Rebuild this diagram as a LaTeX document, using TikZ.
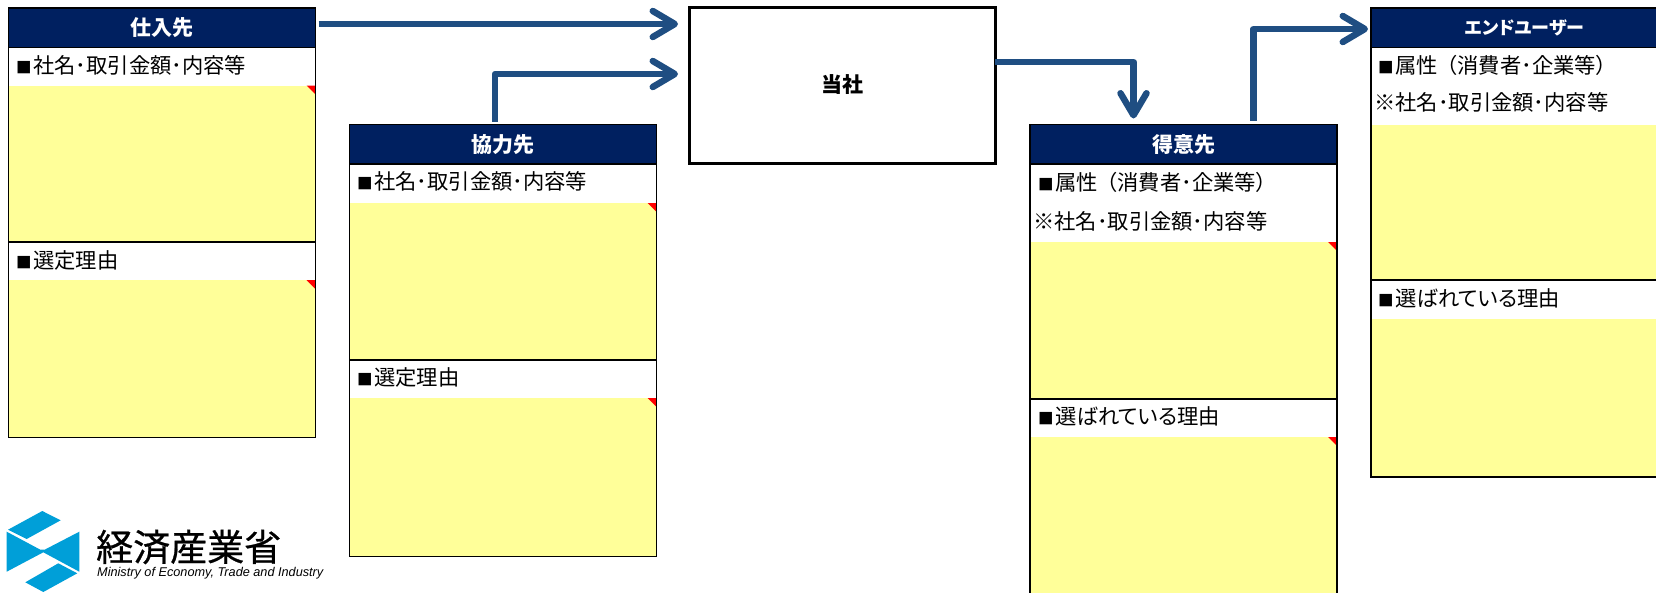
\documentclass[tikz,border=0pt]{standalone}
\usepackage{fontspec}
\setmainfont{Noto Sans CJK JP}[RawFeature=+palt]
\newfontfamily\logolat{Liberation Sans}
\newfontfamily\logocjk{Noto Sans CJK JP}[FakeBold=0.7]
\usetikzlibrary{arrows.meta,calc}
\definecolor{navy}{HTML}{002060}
\definecolor{memo}{HTML}{FFFF99}
\definecolor{flowblue}{HTML}{1F4E82}
\definecolor{logoblue}{HTML}{009FD8}
\newcommand{\sqmark}{{\fontsize{15.5}{20}\selectfont ■}\kern1.5pt}
\newcommand{\wideopen}{\kern9pt（}
\tikzset{
  headbox/.style={draw=black,line width=1.6pt,fill=navy,text=white,font=\fontsize{21}{24}\selectfont\bfseries,
    anchor=north west,inner sep=0pt,outer sep=0pt,minimum width=307pt,minimum height=39.5pt},
  memobox/.style={fill=memo,anchor=north west,inner sep=0pt,outer sep=0pt,minimum width=307pt},
  framebox/.style={draw=black,line width=1.6pt,anchor=north west,inner sep=0pt,outer sep=0pt,minimum width=307pt},
  rowlabel/.style={anchor=west,inner sep=0pt,font=\fontsize{21.3}{24}\selectfont},
  flow/.style={draw=flowblue,line width=6.5pt,line join=round,-{Straight Barb[length=22pt,width=26pt,round]}},
  corner/.style={fill=red}
}
\newcommand{\memo}[4]{% name, x, top, height
  \node[memobox,minimum height=#4pt] (#1) at (#2,#3) {};
  \fill[corner] (#1.north east) -- ++(-9,0) -- ++(9,9) -- cycle;
}
\begin{document}
\begin{tikzpicture}[x=1pt,y=-1pt]
\useasboundingbox (0,0) rectangle (1656,592);
\clip (0,0) rectangle (1656,592);

% supplier
\memo{m1a}{8.5}{85.5}{156.5}
\memo{m1b}{8.5}{280}{158}
\node[framebox,minimum height=429.5pt] (box1) at (8.5,8) {};
\draw[black,line width=1.2pt] (8.5,242) -- (315.5,242);
\node[headbox] (head1) at (8.5,8) {仕入先};
\node[rowlabel] (t1a) at (16,65) {\sqmark 社名･取引金額･内容等};
\node[rowlabel] (t1b) at (16,260) {\sqmark 選定理由};

% partner
\memo{m2a}{349.5}{203}{157}
\memo{m2b}{349.5}{398}{158.5}
\node[framebox,minimum height=432pt] (box2) at (349.5,124.5) {};
\draw[black,line width=1.2pt] (349.5,360) -- (656.5,360);
\node[headbox] (head2) at (349.5,124.5) {協力先};
\node[rowlabel] (t2a) at (357,181) {\sqmark 社名･取引金額･内容等};
\node[rowlabel] (t2b) at (357,377) {\sqmark 選定理由};

% own company
\node[framebox,line width=3pt,minimum width=306pt,minimum height=156pt,font=\fontsize{21}{24}\selectfont\bfseries] (own) at (689,7) {当社};

% customer
\memo{m3a}{1030}{242}{157}
\memo{m3b}{1030}{437}{165}
\node[framebox,minimum height=490pt] (box3) at (1030,124.5) {};
\draw[black,line width=1.2pt] (1030,399) -- (1337,399);
\node[headbox] (head3) at (1030,124.5) {得意先};
\node[rowlabel] (t3a) at (1038,182) {\sqmark 属性\wideopen 消費者･企業等）};
\node[rowlabel] (t3c) at (1033,221) {※社名･取引金額･内容等};
\node[rowlabel] (t3b) at (1038,416) {\sqmark 選ばれている理由};

% end user
\memo{m4a}{1371}{124.5}{155.5}
\memo{m4b}{1371}{319}{158}
\node[framebox,minimum height=469pt] (box4) at (1371,8) {};
\draw[black,line width=1.2pt] (1371,280) -- (1678,280);
\node[headbox,font=\fontsize{18}{20}\selectfont\bfseries] (head4) at (1371,8) {エンドユーザー};
\node[rowlabel] (t4a) at (1378,65) {\sqmark 属性\wideopen 消費者･企業等）};
\node[rowlabel] (t4c) at (1374,102) {※社名･取引金額･内容等};
\node[rowlabel] (t4b) at (1378,298) {\sqmark 選ばれている理由};

% connectors
\draw[flow] ($(head1.north east)+(3,16)$) -- ($(own.north west)+(-11,17)$);
\draw[flow] ($(head2.north)+(-8,-3)$) |- ($(own.north west)+(-11,67)$);
\draw[flow] ($(own.north east)+(0,55)$) -| ($(head3.north)+(-50,-6)$);
\draw[flow] ($(head3.north)+(70,-4)$) |- ($(head4.north west)+(-3,21)$);

% logo
\fill[logoblue] (42.3,511) -- (60.7,520.3) -- (26.7,539) -- (8,529.7) -- cycle;
\fill[logoblue] (6.7,531.7) -- (40,549.5) -- (45,549.5) -- (79.3,531.7) -- (79.3,571.7) -- (43.3,552.3) -- (6.7,571.7) -- cycle;
\fill[logoblue] (58.3,563.3) -- (77.3,573.3) -- (43.3,592) -- (25.3,582.3) -- cycle;
\node[anchor=west,inner sep=0pt,font=\logocjk\fontsize{37}{40}\selectfont] (logoja) at (96,547) {経済産業省};
\node[anchor=west,inner sep=0pt,font=\logolat\fontsize{12.7}{14}\selectfont\itshape] (logoen) at (97,573) {Ministry of Economy, Trade and Industry};
\end{tikzpicture}
\end{document}
